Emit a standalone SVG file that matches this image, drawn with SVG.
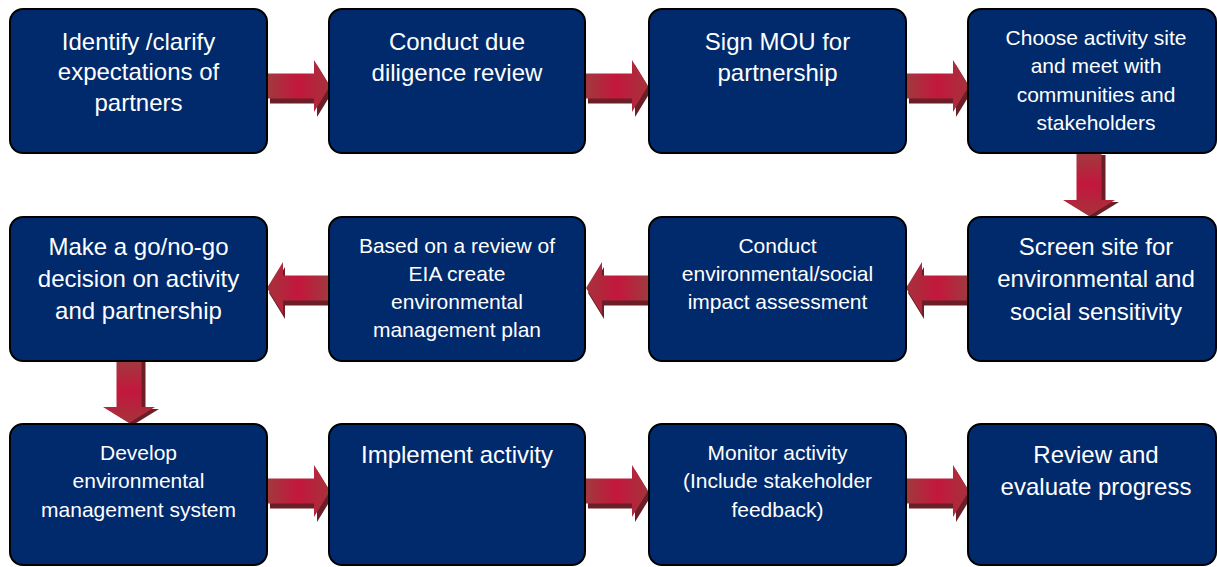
<svg xmlns="http://www.w3.org/2000/svg" xmlns:xlink="http://www.w3.org/1999/xlink" width="1217" height="567" viewBox="0 0 1217 567">
<style>
.box{fill:#002A6C;stroke:#000;stroke-width:2}
.t{font-family:"Liberation Sans",Arial,sans-serif;fill:#fff;text-anchor:middle}
.L{font-size:24px}
.S{font-size:21px}
.sh{fill:#6B1E25}
</style>
<defs>
<linearGradient id="ag" x1="0" y1="0" x2="1" y2="0">
<stop offset="0" stop-color="#A03A3F"/>
<stop offset="0.5" stop-color="#C3173C"/>
<stop offset="1" stop-color="#A5333D"/>
</linearGradient>
<path id="arr" d="M0,-12.5 H47 V-26 L63,0 L47,26 V12.5 H0 Z"/>
</defs>
<rect width="1217" height="567" fill="#fff"/>
<g id="connectors">
<!-- row 1 right -->
<use xlink:href="#arr" class="sh" transform="translate(270,91)"/>
<use xlink:href="#arr" fill="url(#ag)" transform="translate(267,86)"/>
<use xlink:href="#arr" class="sh" transform="translate(588,91)"/>
<use xlink:href="#arr" fill="url(#ag)" transform="translate(585,86)"/>
<use xlink:href="#arr" class="sh" transform="translate(909,91)"/>
<use xlink:href="#arr" fill="url(#ag)" transform="translate(906,86)"/>
<!-- down col4 -->
<use xlink:href="#arr" class="sh" transform="translate(1093,155) rotate(90)"/>
<use xlink:href="#arr" fill="url(#ag)" transform="translate(1089,153) rotate(90)"/>
<!-- row 2 left -->
<use xlink:href="#arr" class="sh" transform="translate(971,293) rotate(180)"/>
<use xlink:href="#arr" fill="url(#ag)" transform="translate(969,288) rotate(180)"/>
<use xlink:href="#arr" class="sh" transform="translate(651,293) rotate(180)"/>
<use xlink:href="#arr" fill="url(#ag)" transform="translate(649,288) rotate(180)"/>
<use xlink:href="#arr" class="sh" transform="translate(332,293) rotate(180)"/>
<use xlink:href="#arr" fill="url(#ag)" transform="translate(330,288) rotate(180)"/>
<!-- down col1 -->
<use xlink:href="#arr" class="sh" transform="translate(133,362) rotate(90)"/>
<use xlink:href="#arr" fill="url(#ag)" transform="translate(129,360) rotate(90)"/>
<!-- row 3 right -->
<use xlink:href="#arr" class="sh" transform="translate(270,496)"/>
<use xlink:href="#arr" fill="url(#ag)" transform="translate(267,491)"/>
<use xlink:href="#arr" class="sh" transform="translate(588,496)"/>
<use xlink:href="#arr" fill="url(#ag)" transform="translate(585,491)"/>
<use xlink:href="#arr" class="sh" transform="translate(909,496)"/>
<use xlink:href="#arr" fill="url(#ag)" transform="translate(906,491)"/>
</g>
<g id="n1"><rect class="box" x="10" y="9" width="257" height="144" rx="13"/>
<text class="t L" x="138.5"><tspan x="138.5" y="49.5">Identify /clarify</tspan><tspan x="138.5" y="80">expectations of</tspan><tspan x="138.5" y="110.5">partners</tspan></text></g>
<g id="n2"><rect class="box" x="329" y="9" width="256" height="144" rx="13"/>
<text class="t L"><tspan x="457" y="49.5">Conduct due</tspan><tspan x="457" y="80.5">diligence review</tspan></text></g>
<g id="n3"><rect class="box" x="649" y="9" width="257" height="144" rx="13"/>
<text class="t L"><tspan x="777.5" y="49.5">Sign MOU for</tspan><tspan x="777.5" y="80.5">partnership</tspan></text></g>
<g id="n4"><rect class="box" x="968" y="9" width="248" height="144" rx="13"/>
<text class="t S"><tspan x="1096" y="44.5">Choose activity site</tspan><tspan x="1096" y="73">and meet with</tspan><tspan x="1096" y="101.5">communities and</tspan><tspan x="1096" y="130">stakeholders</tspan></text></g>
<g id="n5"><rect class="box" x="10" y="217" width="257" height="144" rx="13"/>
<text class="t L"><tspan x="138.5" y="254.5">Make a go/no-go</tspan><tspan x="138.5" y="286.5">decision on activity</tspan><tspan x="138.5" y="318.5">and partnership</tspan></text></g>
<g id="n6"><rect class="box" x="329" y="217" width="256" height="144" rx="13"/>
<text class="t S"><tspan x="457" y="253">Based on a review of</tspan><tspan x="457" y="281">EIA create</tspan><tspan x="457" y="309">environmental</tspan><tspan x="457" y="337">management plan</tspan></text></g>
<g id="n7"><rect class="box" x="649" y="217" width="257" height="144" rx="13"/>
<text class="t S"><tspan x="777.5" y="252.5">Conduct</tspan><tspan x="777.5" y="280.5">environmental/social</tspan><tspan x="777.5" y="308.5">impact assessment</tspan></text></g>
<g id="n8"><rect class="box" x="968" y="217" width="248" height="144" rx="13"/>
<text class="t L"><tspan x="1096" y="254.5">Screen site for</tspan><tspan x="1096" y="287">environmental and</tspan><tspan x="1096" y="319.5">social sensitivity</tspan></text></g>
<g id="n9"><rect class="box" x="10" y="424" width="257" height="141" rx="13"/>
<text class="t S"><tspan x="138.5" y="459.5">Develop</tspan><tspan x="138.5" y="488">environmental</tspan><tspan x="138.5" y="516.5">management system</tspan></text></g>
<g id="n10"><rect class="box" x="329" y="424" width="256" height="141" rx="13"/>
<text class="t L"><tspan x="457" y="462.5">Implement activity</tspan></text></g>
<g id="n11"><rect class="box" x="649" y="424" width="257" height="141" rx="13"/>
<text class="t S"><tspan x="777.5" y="459.5">Monitor activity</tspan><tspan x="777.5" y="488">(Include stakeholder</tspan><tspan x="777.5" y="516.5">feedback)</tspan></text></g>
<g id="n12"><rect class="box" x="968" y="424" width="248" height="141" rx="13"/>
<text class="t L"><tspan x="1096" y="462.5">Review and</tspan><tspan x="1096" y="494.5">evaluate progress</tspan></text></g>
</svg>
